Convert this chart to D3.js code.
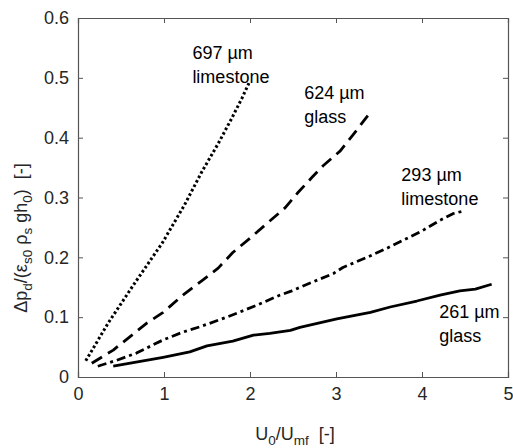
<!DOCTYPE html>
<html>
<head>
<meta charset="utf-8">
<script src="https://cdn.jsdelivr.net/npm/d3@7"></script>
<style>
  html, body { margin: 0; padding: 0; background: #fff; }
  svg { display: block; font-family: "Liberation Sans", Arial, sans-serif; }
</style>
</head>
<body>
<svg id="chart" width="513" height="448"></svg>
<script>
// Dimensionless pressure drop vs. U0/Umf for four bed materials
const glass261X = [0.41, 0.99, 1.30, 1.50, 1.80, 2.04, 2.23, 2.47, 2.58, 3.01, 3.40, 3.63, 3.94, 4.21, 4.44, 4.62, 4.81];
const glass261Y = [0.018, 0.033, 0.042, 0.052, 0.060, 0.070, 0.073, 0.078, 0.083, 0.097, 0.108, 0.117, 0.127, 0.137, 0.144, 0.147, 0.155];

const lime293X = [0.23, 0.45, 0.68, 0.99, 1.22, 1.42, 1.73, 2.08, 2.35, 2.47, 2.70, 2.97, 3.08, 3.36, 3.59, 3.83, 4.01, 4.21, 4.36, 4.47];
const lime293Y = [0.018, 0.028, 0.040, 0.062, 0.075, 0.084, 0.100, 0.120, 0.137, 0.143, 0.157, 0.173, 0.183, 0.200, 0.215, 0.232, 0.245, 0.262, 0.273, 0.277];

const glass624X = [0.16, 0.41, 0.80, 0.99, 1.22, 1.45, 1.63, 1.80, 2.00, 2.20, 2.41, 2.55, 2.73, 2.85, 3.05, 3.20, 3.37];
const glass624Y = [0.023, 0.045, 0.090, 0.108, 0.137, 0.162, 0.182, 0.208, 0.232, 0.257, 0.283, 0.307, 0.335, 0.353, 0.378, 0.405, 0.437];

const lime697X = [0.09, 0.35, 0.66, 0.98, 1.24, 1.44, 1.63, 1.79, 1.91, 1.99];
const lime697Y = [0.027, 0.090, 0.157, 0.224, 0.288, 0.343, 0.390, 0.433, 0.467, 0.492];

const xTicks = [0, 1, 2, 3, 4, 5];
const yTicks = [0, 0.1, 0.2, 0.3, 0.4, 0.5, 0.6];

const series = [
  { xs: glass261X, ys: glass261Y, dash: null, label: ["261 µm", "glass"], lx: 4.2, ly: 0.098 },
  { xs: lime293X, ys: lime293Y, dash: "9,4,3,4", label: ["293 µm", "limestone"], lx: 3.76, ly: 0.327 },
  { xs: glass624X, ys: glass624Y, dash: "12,7", label: ["624 µm", "glass"], lx: 2.63, ly: 0.465 },
  { xs: lime697X, ys: lime697Y, dash: "2.6,2.4", label: ["697 µm", "limestone"], lx: 1.33, ly: 0.532 }
];

const svg = d3.select("#chart");
const margin = { left: 78, right: 5, top: 18, bottom: 71 };
const W = 513, H = 448;

const x = d3.scaleLinear().domain([0, 5]).range([margin.left, W - margin.right]);
const y = d3.scaleLinear().domain([0, 0.6]).range([H - margin.bottom, margin.top]);

const axisColor = "#555";
const tickText = "#262626";
const fontSize = 18;
const subSize = 13.5;

// Axes with inward ticks
const gx = svg.append("g").attr("transform", `translate(0,${y(0)})`)
  .call(d3.axisBottom(x).tickValues(xTicks).tickSize(-5).tickPadding(10).tickFormat(d3.format("d")));
const gy = svg.append("g").attr("transform", `translate(${x(0)},0)`)
  .call(d3.axisLeft(y).tickValues(yTicks).tickSize(-5).tickPadding(9).tickFormat(d => d === 0 ? "0" : d3.format(".1f")(d)));
const gxt = svg.append("g").attr("transform", `translate(0,${y(0.6)})`)
  .call(d3.axisTop(x).tickValues(xTicks).tickSize(-5).tickFormat(""));
const gyr = svg.append("g").attr("transform", `translate(${x(5)},0)`)
  .call(d3.axisRight(y).tickValues(yTicks).tickSize(-5).tickFormat(""));

[gx, gy, gxt, gyr].forEach(g => {
  g.select(".domain").attr("stroke", axisColor).attr("stroke-width", 1.2);
  g.selectAll(".tick line").attr("stroke", axisColor).attr("stroke-width", 1);
  g.selectAll(".tick text").attr("fill", tickText).attr("font-size", fontSize)
    .attr("font-family", "'Liberation Sans', Arial, sans-serif");
});
// hide end ticks that coincide with box edges
gx.selectAll(".tick").filter(d => d === 0 || d === 5).select("line").remove();
gy.selectAll(".tick").filter(d => d === 0 || d === 0.6).select("line").remove();
gxt.selectAll(".tick").filter(d => d === 0 || d === 5).select("line").remove();
gyr.selectAll(".tick").filter(d => d === 0 || d === 0.6).select("line").remove();

// Lines
const line = d3.line().x(d => x(d[0])).y(d => y(d[1]));
series.forEach(s => {
  const pts = s.xs.map((v, i) => [v, s.ys[i]]);
  svg.append("path")
    .datum(pts)
    .attr("d", line)
    .attr("fill", "none")
    .attr("stroke", "#000")
    .attr("stroke-width", s.dash && s.dash.startsWith("2.6") ? 3 : 2.8)
    .attr("stroke-dasharray", s.dash)
    .attr("stroke-linejoin", "round");
  const t = svg.append("text")
    .attr("x", x(s.lx)).attr("y", y(s.ly))
    .attr("font-size", fontSize).attr("fill", "#000");
  s.label.forEach((l, i) => {
    t.append("tspan").attr("x", x(s.lx)).attr("dy", i === 0 ? 0 : 24).text(l);
  });
});

// Axis titles
const xl = svg.append("text")
  .attr("x", 295).attr("y", 440)
  .attr("text-anchor", "middle").attr("font-size", fontSize).attr("fill", tickText)
  .attr("xml:space", "preserve");
xl.append("tspan").text("U");
xl.append("tspan").attr("font-size", subSize).attr("dy", 5).text("0");
xl.append("tspan").attr("dy", -5).text("/U");
xl.append("tspan").attr("font-size", subSize).attr("dy", 5).text("mf");
xl.append("tspan").attr("dy", -5).text("  [-]");

const yl = svg.append("text")
  .attr("transform", "translate(27,238) rotate(-90)")
  .attr("text-anchor", "middle").attr("font-size", fontSize).attr("fill", tickText)
  .attr("xml:space", "preserve");
yl.append("tspan").text("Δp");
yl.append("tspan").attr("font-size", subSize).attr("dy", 5).text("d");
yl.append("tspan").attr("dy", -5).text("/(ε");
yl.append("tspan").attr("font-size", subSize).attr("dy", 5).text("s0");
yl.append("tspan").attr("dy", -5).text(" ρ");
yl.append("tspan").attr("font-size", subSize).attr("dy", 5).text("s");
yl.append("tspan").attr("dy", -5).text(" gh");
yl.append("tspan").attr("font-size", subSize).attr("dy", 5).text("0");
yl.append("tspan").attr("dy", -5).text(")  [-]");
</script>
</body>
</html>
